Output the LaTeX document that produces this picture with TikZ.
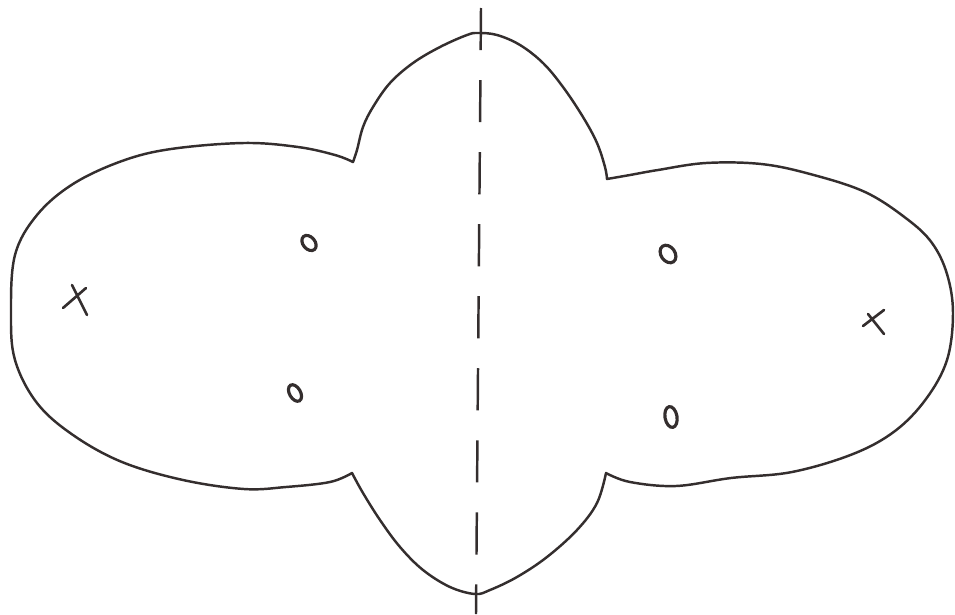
\documentclass[tikz,border=0pt]{standalone}
\usepackage{tikz}
\definecolor{inkgrey}{RGB}{52,46,46}
\begin{document}
\begin{tikzpicture}[x=0.2mm,y=-0.2mm,
  outline/.style={draw=inkgrey,line width=1.4pt,line join=round},
  axisline/.style={draw=inkgrey,line width=1.4pt,dash pattern=on 24pt off 17pt},
  pole/.style={draw=inkgrey,line width=1.5pt,line cap=round},
  zero/.style={draw=inkgrey,line width=1.8pt}]
\useasboundingbox (0,0) rectangle (955,614);
\coordinate (axtop) at (481,8);
\coordinate (axbot) at (476,614);
\coordinate (cuspTL) at (353,162);
\coordinate (cuspTR) at (607,179);
\coordinate (cuspBR) at (606,473);
\coordinate (cuspBL) at (352,473);
% the four lobes, joined at the cusps
\draw[outline]
  plot[smooth,tension=0.6] coordinates {(cuspTL) (357,150) (363,127) (373,107) (390,83) (413,63) (440,47) (467,35) (478,33) (497,35) (520,45) (543,63) (563,87) (583,117) (597,143) (605,167) (cuspTR)}
  -- plot[smooth,tension=0.6] coordinates {(cuspTR) (630,175) (658,170) (706,163) (761,164) (810,174) (865,192) (907,219) (932,243) (947,274) (953,313) (947,360) (926,399) (895,431) (853,454) (792,472) (731,478) (676,486) (630,482) (cuspBR)}
  -- plot[smooth,tension=0.6] coordinates {(cuspBR) (597,503) (577,530) (547,557) (517,577) (490,590) (475,594) (450,587) (423,570) (400,547) (380,520) (363,493) (cuspBL)}
  -- plot[smooth,tension=0.6] coordinates {(cuspBL) (330,482) (286,487) (244,489) (183,480) (122,462) (73,435) (37,403) (15,360) (11,313) (15,255) (37,215) (73,184) (122,161) (171,149) (244,143) (298,147) (335,155) (cuspTL)}
  -- cycle;
\draw[axisline] (axtop) -- (axbot);
% poles
\draw[pole] (63,308) -- (86,288) (72,285) -- (87,315);
\draw[pole] (863,326) -- (884,310) (868,314) -- (884,334);
% zeros
\foreach \cx/\cy/\ra/\rb/\ang in {309/243/6/8.5/40, 295/393/5.5/9/30, 668/254/7/9.5/35, 671/417/6/10.5/10}
  \draw[zero,rotate around={\ang:(\cx,\cy)}] (\cx,\cy) ellipse [x radius=\ra, y radius=\rb];
\end{tikzpicture}
\end{document}
